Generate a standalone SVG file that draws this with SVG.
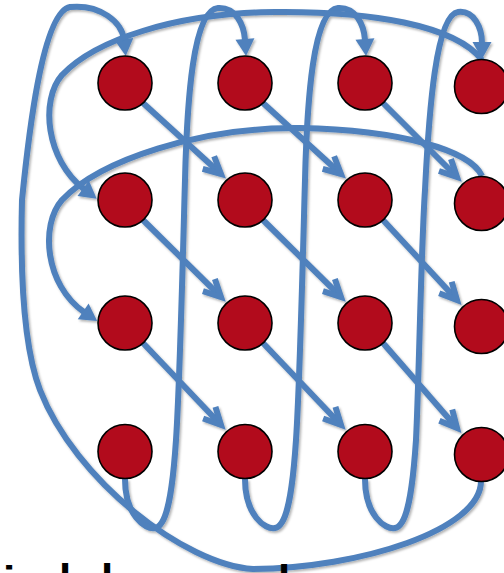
<svg xmlns="http://www.w3.org/2000/svg" width="504" height="573" viewBox="0 0 504 573">
<style>
.c{fill:none;stroke:#4F81BD;stroke-width:6;stroke-linecap:butt;stroke-linejoin:round}
.n{fill:#B20B1C;stroke:#000;stroke-width:1.6}
.t{font-family:"Liberation Sans",Arial,sans-serif;font-weight:bold;font-size:44px;fill:#000}
</style>
<defs>
<filter id="sh" x="-10%" y="-10%" width="120%" height="120%">
<feDropShadow dx="1.5" dy="1.8" stdDeviation="1.2" flood-color="#000" flood-opacity="0.3"/>
</filter>
<marker id="tri" markerUnits="userSpaceOnUse" viewBox="-20 -15 40 30" markerWidth="40" markerHeight="30" refX="1" refY="0" orient="auto" style="overflow:visible">
<path d="M0,-9.5 L17,0 L0,9.5 Z" fill="#4F81BD"/>
</marker>
<marker id="open" markerUnits="userSpaceOnUse" viewBox="-20 -15 40 30" markerWidth="40" markerHeight="30" refX="0" refY="0" orient="auto" style="overflow:visible">
<path d="M-17,-8.5 L0,0 L-17,8.5" fill="none" stroke="#4F81BD" stroke-width="6" stroke-linejoin="miter" stroke-miterlimit="10"/>
</marker>
</defs>

<g id="connectors" filter="url(#sh)">
<!-- big loop: row4 col4 -> row1 col1 -->
<path class="c" marker-end="url(#tri)" d="M481 481 C481 530 360 568 253 569 C185 565 75 480 40 390 C25 351 20 280 22 200 C28 140 42 12 70 7 C100 4 122 22 124 40"/>
<!-- column wraps -->
<path class="c" marker-end="url(#tri)" d="M125 479 C125 515 145 530 155 528 C166 526 172 500 176 440 C180 380 183 250 185 180 C187 100 193 10 218 8 C236 7 244 25 245 40"/>
<path class="c" marker-end="url(#tri)" d="M245 479 C245 515 265 530 275 528 C286 526 292 500 296 440 C300 380 303 250 305 180 C307 100 313 10 338 8 C356 7 364 25 365 40"/>
<path class="c" marker-end="url(#tri)" d="M365 479 C365 515 385 530 395 528 C406 526 412 500 416 440 C419 380 421 250 425 190 C429 110 436 15 458 12 C474 10 482 28 482 43"/>
<!-- row wraps -->
<path class="c" marker-end="url(#tri)" d="M482 60 C455 25 370 11 275 12 C175 13 95 40 62 75 C40 100 46 160 84 189"/>
<path class="c" marker-end="url(#tri)" d="M482 176 C470 150 400 130 300 128 C200 127 100 160 62 200 C40 225 45 285 84 312"/>
<!-- diagonals -->
<path class="c" marker-end="url(#open)" d="M143 103 L221 174"/>
<path class="c" marker-end="url(#open)" d="M263 103 L341 174"/>
<path class="c" marker-end="url(#open)" d="M383 103 L457 177"/>
<path class="c" marker-end="url(#open)" d="M143 220 L221 297"/>
<path class="c" marker-end="url(#open)" d="M263 220 L341 297"/>
<path class="c" marker-end="url(#open)" d="M383 220 L457 300"/>
<path class="c" marker-end="url(#open)" d="M143 343 L221 425"/>
<path class="c" marker-end="url(#open)" d="M263 343 L341 425"/>
<path class="c" marker-end="url(#open)" d="M383 343 L457 428"/>
</g>

<g id="n11"><circle class="n" cx="125" cy="83" r="27"/></g>
<g id="n12"><circle class="n" cx="245" cy="83" r="27"/></g>
<g id="n13"><circle class="n" cx="365" cy="83" r="27"/></g>
<g id="n14"><circle class="n" cx="481.5" cy="86.5" r="27"/></g>
<g id="n21"><circle class="n" cx="125" cy="200" r="27"/></g>
<g id="n22"><circle class="n" cx="245" cy="200" r="27"/></g>
<g id="n23"><circle class="n" cx="365" cy="200" r="27"/></g>
<g id="n24"><circle class="n" cx="481.5" cy="203.5" r="27"/></g>
<g id="n31"><circle class="n" cx="125" cy="323" r="27"/></g>
<g id="n32"><circle class="n" cx="245" cy="323" r="27"/></g>
<g id="n33"><circle class="n" cx="365" cy="323" r="27"/></g>
<g id="n34"><circle class="n" cx="481.5" cy="326.5" r="27"/></g>
<g id="n41"><circle class="n" cx="125" cy="451.5" r="27"/></g>
<g id="n42"><circle class="n" cx="245" cy="451.5" r="27"/></g>
<g id="n43"><circle class="n" cx="365" cy="451.5" r="27"/></g>
<g id="n44"><circle class="n" cx="481.5" cy="454.5" r="27"/></g>

<text class="t" x="3 59 101 278" y="597 595 595 596">illl</text>
</svg>
